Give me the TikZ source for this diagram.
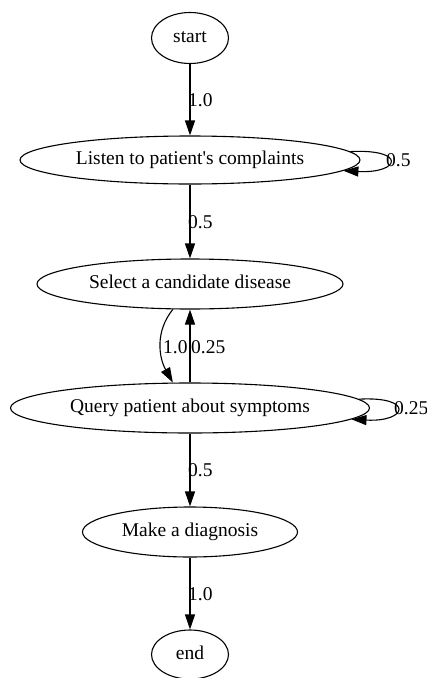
\documentclass[tikz,border=0pt]{standalone}
\usepackage{fontspec}
\newfontfamily\gvfont{Liberation Serif}
\usetikzlibrary{shapes.geometric,arrows.meta}
\begin{document}
\begin{tikzpicture}[x=1pt,y=-1pt,
  state/.style={ellipse,draw,line width=1.1pt,inner sep=0pt,
    font=\gvfont\fontsize{19.5}{22}\selectfont,text height=13pt,text depth=4pt},
  flow/.style={-{Triangle[length=15pt,width=10pt]},line width=1.1pt},
  wlabel/.style={font=\gvfont\fontsize{19.5}{22}\selectfont,inner sep=0pt}]
\fill[white] (0,0) rectangle (427,678);
\useasboundingbox (0,0) rectangle (427,678);
% nodes
\node[state,minimum width=77pt,minimum height=51pt] (st) at (190,38) {start};
\node[state,minimum width=340pt,minimum height=48pt] (L) at (190,160) {Listen to patient's complaints};
\node[state,minimum width=306pt,minimum height=50pt] (S) at (190,284) {Select a candidate disease};
\node[state,minimum width=359pt,minimum height=50pt] (Q) at (190,408) {Query patient about symptoms};
\node[state,minimum width=215pt,minimum height=50pt] (M) at (190,532) {Make a diagnosis};
\node[state,minimum width=77pt,minimum height=49pt] (E) at (190,654.5) {end};
% edges
\draw[flow] (st) -- (L);
\draw[flow] (L.3.6) .. controls +(57,-3) and +(57,3) .. (L.-4.2);
\draw[flow] (L) -- (S);
\draw[flow] (S.236) .. controls +(-18,22) and +(-14,-25) .. (Q.124);
\draw[flow] (Q) -- (S);
\draw[flow] (Q.3.8) .. controls +(56,-3) and +(56,3) .. (Q.-4.2);
\draw[flow] (Q) -- (M);
\draw[flow] (M) -- (E);
% labels
\node[wlabel,anchor=west] (l1) at (188,100) {1.0};
\node[wlabel,anchor=west] (l2) at (386,160) {0.5};
\node[wlabel,anchor=west] (l3) at (188,222) {0.5};
\node[wlabel,anchor=west] (l4) at (163,347) {1.0};
\node[wlabel,anchor=west] (l5) at (191,347) {0.25};
\node[wlabel,anchor=west] (l6) at (394,408) {0.25};
\node[wlabel,anchor=west] (l7) at (188,470) {0.5};
\node[wlabel,anchor=west] (l8) at (188,594) {1.0};
\end{tikzpicture}
\end{document}
